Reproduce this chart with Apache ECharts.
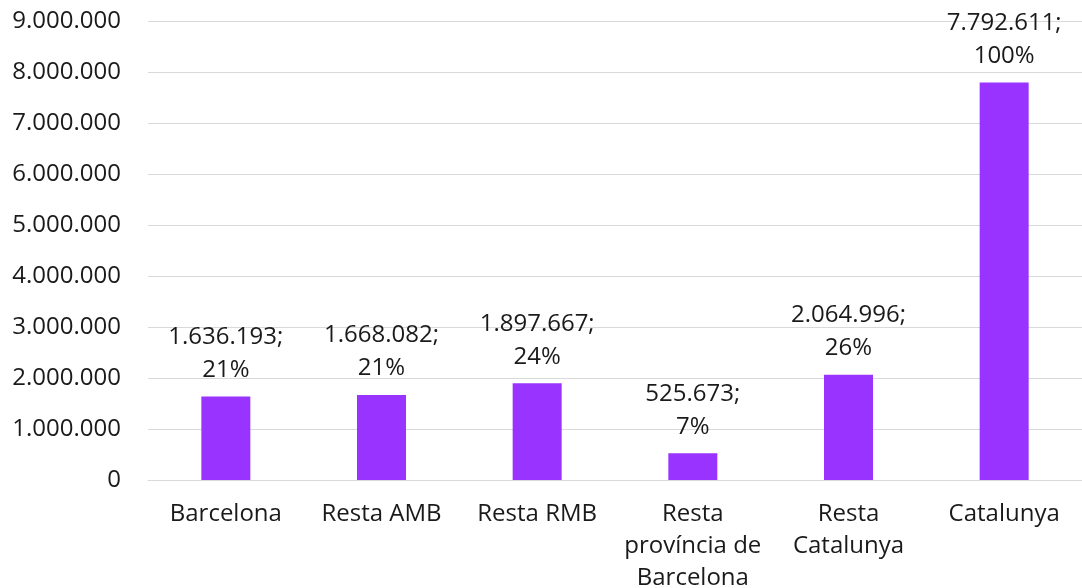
<!DOCTYPE html>
<html>
<head>
<meta charset="utf-8">
<script src="https://cdn.jsdelivr.net/npm/echarts@6/dist/echarts.min.js"></script>
<style>
  html, body { margin: 0; padding: 0; background: #fff; }
  #main { width: 1082px; height: 588px; }
</style>
</head>
<body>
<div id="main"></div>
<script>
var categories = ['Barcelona', 'Resta AMB', 'Resta RMB', 'Resta\nprovíncia de\nBarcelona', 'Resta\nCatalunya', 'Catalunya'];
var values = [1636193, 1668082, 1897667, 525673, 2064996, 7792611];
var shares = ['21%', '21%', '24%', '7%', '26%', '100%'];

function fmt(n) {
    return String(n).replace(/\B(?=(\d{3})+(?!\d))/g, '.');
}

var myChart = echarts.init(document.getElementById('main'));

var option = {
    animation: false,
    textStyle: { fontFamily: 'Open Sans' },
    grid: { left: 148, right: 0, top: 21, bottom: 108, outerBoundsMode: 'none' },
    xAxis: {
        type: 'category',
        data: categories,
        axisTick: { show: false },
        axisLine: { lineStyle: { color: '#d9d9d9', width: 1 } },
        axisLabel: { color: '#1a1a1a', fontSize: 24, lineHeight: 32, margin: 18, interval: 0 }
    },
    yAxis: {
        type: 'value',
        min: 0,
        max: 9000000,
        interval: 1000000,
        axisLabel: {
            color: '#1a1a1a', fontSize: 24, margin: 27,
            formatter: function (v) { return fmt(v); }
        },
        splitLine: { lineStyle: { color: '#d9d9d9', width: 1 } }
    },
    series: [{
        type: 'bar',
        data: values,
        barWidth: 49,
        itemStyle: { color: '#9933ff' },
        label: {
            show: true,
            position: 'top',
            distance: 10,
            color: '#1a1a1a',
            fontSize: 24,
            lineHeight: 33,
            formatter: function (p) { return fmt(p.value) + ';\n' + shares[p.dataIndex]; }
        }
    }]
};

myChart.setOption(option);
</script>
</body>
</html>
